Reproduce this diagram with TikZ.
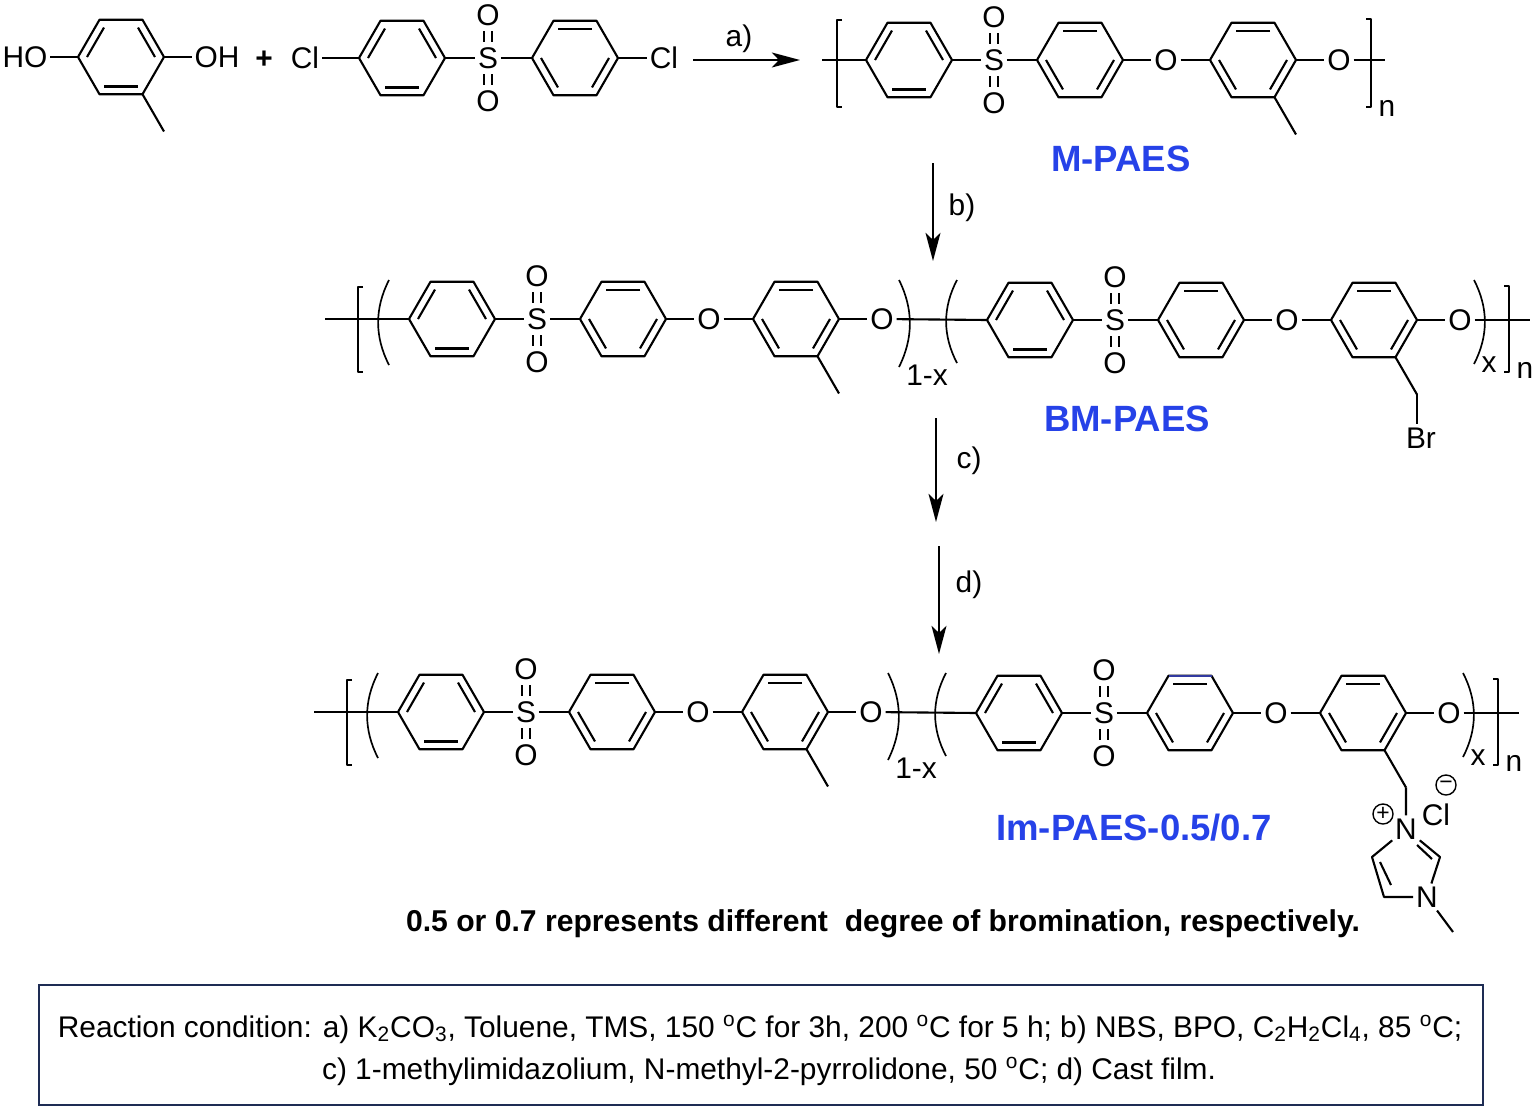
\documentclass[tikz,border=0pt]{standalone}
\usepackage{fontspec}
\setmainfont{Liberation Sans}
\usetikzlibrary{arrows.meta}
\usetikzlibrary{positioning}
\usetikzlibrary{calc}
\definecolor{labelblue}{RGB}{38,66,232}
\definecolor{boxline}{RGB}{30,44,84}
\definecolor{bluebond}{RGB}{50,58,160}
\newcommand{\ringnode}[4]{
  \coordinate (#1) at (#2,#3);
  \foreach \ang in {0,60,...,300}{\coordinate (#1-\ang) at ($(#1)+(\ang:43)$);}
  \draw[bond] (#1-0) -- (#1-60) -- (#1-120) -- (#1-180) -- (#1-240) -- (#1-300) -- cycle;
  \foreach \ang in {#4}{\draw[bond] ($(#1)+(\ang:34)$) -- ($(#1)+(\ang+60:34)$);}
}
\newcommand{\sulfonyl}[3]{
  \node[atom] (#1) at (#2,#3) {S};
  \node[atom] (#1t) at (#2,#3+43) {O};
  \node[atom] (#1b) at (#2,#3-43) {O};
  \foreach \off in {-2.1pt,2.1pt}{
    \draw[bond,shorten >=1.5pt,shorten <=1.5pt] ([xshift=\off]#1.north) -- ([xshift=\off]#1t.south);
    \draw[bond,shorten >=1.5pt,shorten <=1.5pt] ([xshift=\off]#1.south) -- ([xshift=\off]#1b.north);
  }
}
\newcommand{\repunit}[3]{
  \ringnode{#1A}{#2}{#3}{0,120,240}
  \ringnode{#1B}{#2+171}{#3}{60,180,300}
  \ringnode{#1C}{#2+344}{#3}{60,180,300}
  \sulfonyl{#1S}{#2+85}{#3}
  \node[atom] (#1O) at (#2+257,#3) {O};
  \node[atom] (#1P) at (#2+430,#3) {O};
  \draw[bond] (#1A-0) -- (#1S);
  \draw[bond] (#1S) -- (#1B-180);
  \draw[bond] (#1B-0) -- (#1O);
  \draw[bond] (#1O) -- (#1C-180);
  \draw[bond] (#1C-0) -- (#1P);
}
\newcommand{\leftarc}[3]{\draw[enclosure] ({#1},{#2}) .. controls ({#1-14.5},{(#2)-((#2)-(#3))/3}) and ({#1-14.5},{(#3)+((#2)-(#3))/3}) .. ({#1},{#3})}
\newcommand{\rightarc}[3]{\draw[enclosure] ({#1},{#2}) .. controls ({#1+14.5},{(#2)-((#2)-(#3))/3}) and ({#1+14.5},{(#3)+((#2)-(#3))/3}) .. ({#1},{#3})}
\newcommand{\leftbracket}[3]{\draw[enclosure] (#1+5,#2) -- (#1,#2) -- (#1,#3) -- (#1+5,#3)}
\newcommand{\rightbracket}[3]{\draw[enclosure] (#1-5,#2) -- (#1,#2) -- (#1,#3) -- (#1-5,#3)}
\newcommand{\copolymer}[3]{
  \repunit{#1u}{#2}{#3}
  \repunit{#1v}{#2+578}{#3-1}
  \coordinate (#1start) at (#2-127,#3);
  \coordinate (#1end) at (#2+1078,#3-1);
  \draw[bond] (#1start) -- (#1uA-180);
  \draw[bond] (#1uP) -- (#1vA-180);
  \draw[bond] (#1vP) -- (#1end);
  \leftbracket{#2-94}{#3+32}{#3-53};
  \leftarc{#2-63}{#3+39}{#3-46};
  \rightarc{#2+447}{#3+39}{#3-48};
  \leftarc{#2+505}{#3+39}{#3-44};
  \rightarc{#2+1022}{#3+39}{#3-45};
  \rightbracket{#2+1057}{#3+33}{#3-53};
  \node[atom] (#1frac) at (#2+475,#3-56) {1-x};
  \node[atom] (#1x) at (#2+1037,#3-43) {x};
  \node[atom] (#1n) at (#2+1073,#3-49) {n};
  \coordinate (#1me) at ($(#1uC-300)+(300:43)$);
  \draw[bond] (#1uC-300) -- (#1me);
}
\begin{document}
\begin{tikzpicture}[
        x=0.02cm,y=0.02cm,
        bond/.style={line width=1.2pt,line join=round},
        enclosure/.style={line width=.95pt,line join=round},
        atom/.style={font=\fontsize{17}{20}\selectfont,inner sep=1.5pt,text height=12pt,text depth=0pt},
        step label/.style={font=\fontsize{17}{20}\selectfont,inner sep=0pt},
        name label/.style={font=\fontsize{20.8}{24}\selectfont\bfseries,text=labelblue,inner sep=0pt},
        charge/.style={circle,draw,line width=.8pt,inner sep=0pt,minimum size=11.4pt,font=\fontsize{13}{13}\selectfont},
        reaction/.style={line width=1.2pt,-{Stealth[length=16pt,width=8.5pt,inset=4pt]}}
      ]
      \useasboundingbox (0,0) rectangle (1536,-1109);
      % monomers
      \ringnode{hq}{121}{-57}{0,120,240}
      \node[atom] (ho) at (25,-57) {HO};
      \node[atom] (oh) at (217,-57) {OH};
      \coordinate (hqme) at ($(hq-300)+(300:43)$);
      \draw[bond] (ho) -- (hq-180);
      \draw[bond] (hq-0) -- (oh);
      \draw[bond] (hq-300) -- (hqme);
      \node[atom,font=\fontsize{17}{20}\selectfont\bfseries] (plus) at (264,-58) {+};
      \node[atom] (cla) at (305,-58) {Cl};
      \ringnode{dca}{402}{-58}{0,120,240}
      \sulfonyl{dcs}{488}{-58}
      \ringnode{dcb}{575}{-58}{60,180,300}
      \node[atom] (clb) at (664,-58) {Cl};
      \draw[bond] (cla) -- (dca-180);
      \draw[bond] (dca-0) -- (dcs);
      \draw[bond] (dcs) -- (dcb-180);
      \draw[bond] (dcb-0) -- (clb);
      % M-PAES
      \repunit{m}{909}{-60}
      \coordinate (mstart) at (822,-60);
      \coordinate (mend) at (1385,-60);
      \coordinate (mme) at ($(mC-300)+(300:43)$);
      \draw[bond] (mstart) -- (mA-180);
      \draw[bond] (mP) -- (mend);
      \draw[bond] (mC-300) -- (mme);
      \leftbracket{837}{-20}{-107};
      \rightbracket{1371}{-19}{-107};
      \node[atom] (mn) at (1387,-106) {n};
      \node[name label] (mpaes) at (1121,-159) {M-PAES};
      % BM-PAES
      \copolymer{b}{452}{-319}
      \coordinate (bch) at ($(bvC-300)+(300:43)$);
      \node[atom] (br) at (1421,-438) {Br};
      \draw[bond] (bvC-300) -- (bch);
      \draw[bond] (bch) -- (bch |- br.north);
      \node[name label] (bmpaes) at (1127,-419) {BM-PAES};
      % Im-PAES
      \copolymer{i}{441}{-712}
      \draw[bond,draw=bluebond] (ivB-60) -- (ivB-120);
      \coordinate (ich) at ($(ivC-300)+(300:43)$);
      \node[atom] (nplus) at (1406,-829) {N};
      \node[atom] (nme) at (1427,-897) {N};
      \coordinate (imb) at (1440,-857);
      \coordinate (imd) at (1384,-897);
      \coordinate (ime) at (1372,-857);
      \coordinate (imch) at (1453,-932);
      \draw[bond] (ivC-300) -- (ich);
      \draw[bond] (ich) -- (nplus);
      \draw[bond] (nplus) -- (imb) -- (nme);
      \draw[bond] (nme) -- (imd) -- (ime) -- (nplus);
      \draw[bond] (1417,-845) -- (1432,-859);
      \draw[bond] (1380,-862) -- (1391,-885);
      \draw[bond] (nme) -- (imch);
      \node[charge] (chplus) at (1383,-814) {+};
      \node[charge] (chminus) at (1446,-785) {−};
      \node[atom] (clion) at (1436,-815) {Cl};
      \node[name label] (impaes) at (1134,-828) {Im-PAES-0.5/0.7};
      \node[font=\fontsize{17.15}{20}\selectfont\bfseries,inner sep=0pt] (note) at (883,-924)
        {0.5 or 0.7 represents different\ \ degree of bromination, respectively.};
      % arrows
      \coordinate (aa) at (693,-60);
      \coordinate (ab) at (800,-60);
      \coordinate (ba) at (933,-163);
      \coordinate (bb) at (933,-261);
      \coordinate (ca) at (936,-418);
      \coordinate (cb) at (936,-522);
      \coordinate (da) at (939,-546);
      \coordinate (db) at (939,-654);
      \draw[reaction] (aa) -- (ab);
      \draw[reaction] (ba) -- (bb);
      \draw[reaction] (ca) -- (cb);
      \draw[reaction] (da) -- (db);
      \node[step label] (la) at (739,-39) {a)};
      \node[step label] (lb) at (962,-208) {b)};
      \node[step label] (lc) at (969,-461) {c)};
      \node[step label] (ld) at (969,-585) {d)};
      % conditions
      \node[draw=boxline,line width=1.2pt,minimum width=28.88cm,minimum height=2.4cm,inner sep=0pt] (cond) at (761,-1045) {};
      \node[align=center,inner sep=0pt,font=\fontsize{17}{23.9}\selectfont] (condtext) at (760,-1050)
        {Reaction condition: a) K\textsubscript{2}CO\textsubscript{3}, Toluene, TMS, 150 \textsuperscript{o}C for 3h, 200 \textsuperscript{o}C for 5 h; b) NBS, BPO, C\textsubscript{2}H\textsubscript{2}Cl\textsubscript{4}, 85 \textsuperscript{o}C;\\
         \hspace*{0.36cm}c) 1-methylimidazolium, N-methyl-2-pyrrolidone, 50 \textsuperscript{o}C; d) Cast film.};
    \end{tikzpicture}
\end{document}
